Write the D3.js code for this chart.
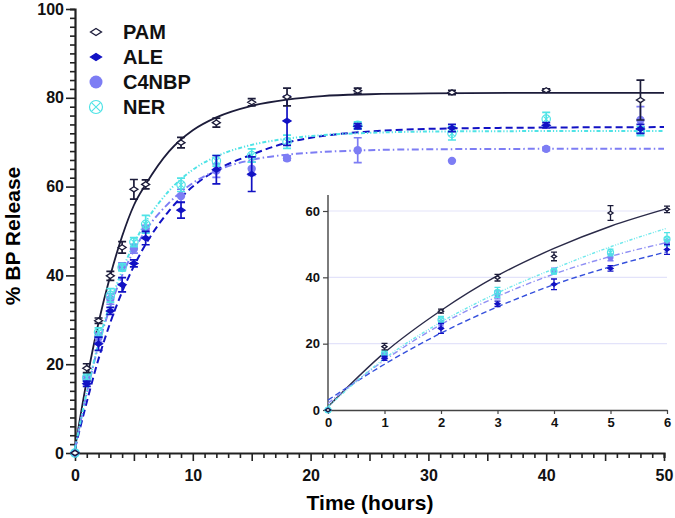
<!DOCTYPE html>
<html>
<head>
<meta charset="utf-8">
<script src="https://cdn.jsdelivr.net/npm/d3@7"></script>
<style>
  body { margin: 0; background: #fff; }
  svg { display: block; font-family: "Liberation Sans", Arial, sans-serif; }
</style>
</head>
<body>
<div id="chart"></div>
<script>
// measured times (hours)
const times = [0, 1, 2, 3, 4, 5, 6, 9, 12, 15, 18, 24, 32, 40, 48];

// mean % release and error
const pamVals = [0, 19.1, 29.8, 39.9, 46.3, 59.4, 60.5, 69.9, 74.4, 79.0, 80.2, 81.6, 81.2, 81.7, 79.5];
const pamErr = [0, 1.0, 0.6, 1.0, 1.3, 2.2, 1.0, 1.2, 1.0, 0.8, 2.0, 0.6, 0.5, 0.3, 4.5];
const aleVals = [0, 15.6, 24.6, 32.0, 37.9, 42.7, 48.4, 54.7, 63.8, 62.8, 74.8, 73.6, 73.2, 73.8, 73.0];
const aleErr = [0, 0.6, 1.5, 0.8, 1.6, 0.8, 1.5, 1.8, 3.2, 3.9, 5.5, 0.6, 0.8, 0.6, 1.0];
const c4Vals = [0, 16.5, 26.0, 34.7, 42.0, 46.0, 50.5, 57.9, 63.6, 64.0, 66.4, 68.2, 65.8, 68.5, 75.0];
const c4Err = [0, 0.8, 1.0, 1.2, 0.8, 1.0, 0.8, 1.5, 1.5, 1.5, 0.5, 2.8, 0, 0.4, 3.0];
const nerVals = [0, 17.0, 27.2, 35.5, 41.8, 47.5, 51.5, 60.4, 65.8, 67.0, 70.1, 73.8, 72.0, 75.2, 72.5];
const nerErr = [0, 0.8, 1.0, 1.5, 0.8, 1.0, 2.0, 1.5, 1.2, 1.5, 1.5, 0.8, 1.5, 1.5, 1.0];

// fitted curves
const fitTimes = [0, 1, 2, 3, 4, 5, 6, 8, 10, 12, 15, 18, 21, 25, 30, 40, 50];
const pamFit = [1, 16.4, 29.4, 40.0, 48.8, 55.8, 60.5, 68.0, 72.7, 75.6, 78.2, 79.6, 80.4, 80.8, 81.0, 81.1, 81.1];
const aleFit = [1, 11.5, 21.2, 29.4, 36.3, 42.1, 47.0, 54.6, 60.0, 63.7, 67.2, 69.9, 71.4, 72.4, 73.0, 73.3, 73.4];
const c4Fit = [1, 13.5, 24.3, 33.0, 40.0, 45.6, 50.1, 56.4, 60.8, 63.6, 66.0, 67.2, 67.8, 68.2, 68.4, 68.5, 68.5];
const nerFit = [1, 13.7, 24.8, 33.8, 41.1, 47.1, 52.0, 59.1, 63.8, 66.8, 69.4, 70.8, 71.6, 72.1, 72.4, 72.5, 72.5];

// fitted curves (first 6 h)
const insetTimes = [0, 1, 2, 3, 4, 5, 6];
const pamFitIn = [1, 17.3, 30.0, 40.5, 48.7, 55.4, 60.7];
const aleFitIn = [3, 13.8, 23.2, 31.1, 37.8, 43.2, 47.7];
const c4FitIn = [2, 15.0, 25.8, 34.2, 41.0, 46.3, 50.5];
const nerFitIn = [1, 15.5, 26.5, 35.3, 42.6, 49.2, 54.8];

const xTicks = [0, 10, 20, 30, 40, 50];
const yTicks = [0, 20, 40, 60, 80, 100];
const insetXTicks = [0, 1, 2, 3, 4, 5, 6];
const insetYTicks = [0, 20, 40, 60];

const series = [
  { name: "PAM", vals: pamVals, err: pamErr, fit: pamFit, fitIn: pamFitIn, color: "#1c1c3a", lineIn: "#2a2a48", dash: null, marker: "openDiamond" },
  { name: "ALE", vals: aleVals, err: aleErr, fit: aleFit, fitIn: aleFitIn, color: "#1212c4", lineIn: "#3550dc", dash: "7,4", marker: "diamond" },
  { name: "C4NBP", vals: c4Vals, err: c4Err, fit: c4Fit, fitIn: c4FitIn, color: "#7d7df4", lineIn: "#8f8ff4", dash: "7,3,1.5,3", marker: "circle" },
  { name: "NER", vals: nerVals, err: nerErr, fit: nerFit, fitIn: nerFitIn, color: "#4fe3e6", lineIn: "#6ee8ec", dash: "4,2,1.2,2,1.2,2", marker: "crossCircle" }
];

const W = 675, H = 518;
const svg = d3.select("#chart").append("svg").attr("width", W).attr("height", H);

const x = d3.scaleLinear().domain([0, 50]).range([75, 664]);
const y = d3.scaleLinear().domain([0, 100]).range([453, 9]);

// draw one marker at (cx, cy); dw/dh = diamond half sizes, r = circle radius
function drawMarker(g, type, cx, cy, sz, color) {
  if (type === "openDiamond" || type === "diamond") {
    const w = sz.dw, h = sz.dh;
    g.append("path")
      .attr("d", `M${cx - w},${cy}L${cx},${cy - h}L${cx + w},${cy}L${cx},${cy + h}Z`)
      .attr("fill", type === "diamond" ? color : "#fff")
      .attr("stroke", color)
      .attr("stroke-width", 1.3);
  } else if (type === "circle") {
    g.append("circle").attr("cx", cx).attr("cy", cy).attr("r", sz.r).attr("fill", color);
  } else {
    const r = sz.r, d = r * 0.65;
    g.append("circle").attr("cx", cx).attr("cy", cy).attr("r", r)
      .attr("fill", "none").attr("stroke", color).attr("stroke-width", 1.2);
    g.append("path")
      .attr("d", `M${cx - d},${cy - d}L${cx + d},${cy + d}M${cx - d},${cy + d}L${cx + d},${cy - d}`)
      .attr("stroke", color).attr("stroke-width", 1.1);
  }
}

function drawPoints(g, sx, sy, s, maxT, sz, cap, ew) {
  times.forEach((t, i) => {
    if (t > maxT) return;
    const v = s.vals[i], e = s.err[i];
    const px = sx(t);
    if (e > 0) {
      g.append("path")
        .attr("d", `M${px},${sy(v + e)}V${sy(v - e)}M${px - cap},${sy(v + e)}H${px + cap}M${px - cap},${sy(v - e)}H${px + cap}`)
        .attr("stroke", s.color)
        .attr("stroke-width", ew)
        .attr("fill", "none");
    }
    drawMarker(g, s.marker, px, sy(v), sz, s.color);
  });
}

// ---- main axes
const xAxis = d3.axisBottom(x)
  .tickValues(d3.range(0, 51, 1))
  .tickSizeOuter(0)
  .tickSize(5)
  .tickFormat((d) => (xTicks.includes(d) ? d : ""));
const gx = svg.append("g").attr("transform", "translate(0,453)").call(xAxis);
gx.select(".domain").attr("stroke", "#222").attr("stroke-width", 2.2);
gx.selectAll(".tick line")
  .attr("stroke", "#222").attr("stroke-width", 1.6)
  .attr("y2", (d) => (d % 5 === 0 ? 8 : 5));
gx.selectAll(".tick text")
  .attr("y", 17)
  .style("font-size", "16px").style("font-weight", "bold").attr("fill", "#111");

const yAxis = d3.axisLeft(y)
  .tickValues(d3.range(0, 101, 2))
  .tickSizeOuter(0)
  .tickSize(5)
  .tickFormat((d) => (yTicks.includes(d) ? d : ""));
const gy = svg.append("g").attr("transform", "translate(75,0)").call(yAxis);
gy.select(".domain").attr("stroke", "#222").attr("stroke-width", 2.2);
gy.selectAll(".tick line")
  .attr("stroke", "#222").attr("stroke-width", 1.6)
  .attr("x2", (d) => (d % 20 === 0 ? -9 : -5));
gy.selectAll(".tick text")
  .attr("x", -11)
  .style("font-size", "16px").style("font-weight", "bold").attr("fill", "#111");

// axis titles
svg.append("text")
  .attr("x", 370).attr("y", 510)
  .attr("text-anchor", "middle")
  .style("font-size", "21px").style("font-weight", "bold")
  .text("Time (hours)");
svg.append("text")
  .attr("transform", "translate(20,236) rotate(-90)")
  .attr("text-anchor", "middle")
  .style("font-size", "21px").style("font-weight", "bold")
  .text("% BP Release");

// ---- main curves
const mainLine = (arr) => d3.line()
  .x((d, i) => x(fitTimes[i]))
  .y((d) => y(d))
  .curve(d3.curveMonotoneX)(arr);

series.forEach((s) => {
  svg.append("path")
    .attr("d", mainLine(s.fit))
    .attr("fill", "none")
    .attr("stroke", s.color)
    .attr("stroke-width", s.name === "PAM" ? 1.8 : 2)
    .attr("stroke-dasharray", s.dash);
});

const mainPts = svg.append("g");
[series[2], series[3], series[1], series[0]].forEach((s) => {
  drawPoints(mainPts, x, y, s, 50, { dw: 4, dh: 2.6, r: 4.2 }, 4, 1.7);
});

// ---- legend
const legend = svg.append("g");
series.forEach((s, i) => {
  const ly = 32 + i * 25;
  drawMarker(legend, s.marker, 96, ly, { dw: 5.5, dh: 3.5, r: 6.5 }, s.color);
  legend.append("text")
    .attr("x", 123).attr("y", ly + 7)
    .style("font-size", "20px").style("font-weight", "bold")
    .attr("fill", "#111")
    .text(s.name);
});

// ---- inset
const ix = d3.scaleLinear().domain([0, 6]).range([328, 667]);
const iy = d3.scaleLinear().domain([0, 60]).range([410, 211]);
const inset = svg.append("g");

inset.append("rect")
  .attr("x", 300).attr("y", 188).attr("width", 375).attr("height", 250)
  .attr("fill", "#fff");

inset.selectAll("line.grid")
  .data(insetYTicks.filter((d) => d > 0))
  .join("line")
  .attr("class", "grid")
  .attr("x1", ix(0)).attr("x2", ix(6))
  .attr("y1", (d) => iy(d)).attr("y2", (d) => iy(d))
  .attr("stroke", "#e3e3fa").attr("stroke-width", 1.2);

const ixAxis = d3.axisBottom(ix).tickValues(insetXTicks).tickFormat(d3.format("d")).tickSize(4).tickSizeOuter(0);
const gix = inset.append("g").attr("transform", "translate(0,410)").call(ixAxis);
gix.select(".domain").attr("stroke", "#444").attr("stroke-width", 1.4);
gix.selectAll(".tick line").attr("stroke", "#444").attr("stroke-width", 1.2);
gix.selectAll(".tick text")
  .attr("y", 8)
  .style("font-size", "13px").style("font-weight", "bold").attr("fill", "#111");

const iyAxis = d3.axisLeft(iy).tickValues(insetYTicks).tickFormat(d3.format("d")).tickSize(5).tickSizeOuter(0);
const giy = inset.append("g").attr("transform", "translate(328,0)").call(iyAxis);
giy.select(".domain").attr("d", `M0,${iy(0)}V195`).attr("stroke", "#444").attr("stroke-width", 1.4);
giy.selectAll(".tick line").attr("stroke", "#444").attr("stroke-width", 1.2);
giy.selectAll(".tick text")
  .attr("x", -8)
  .style("font-size", "13px").style("font-weight", "bold").attr("fill", "#111");

const insetLine = (arr) => d3.line()
  .x((d, i) => ix(insetTimes[i]))
  .y((d) => iy(d))
  .curve(d3.curveMonotoneX)(arr);

series.forEach((s) => {
  inset.append("path")
    .attr("d", insetLine(s.fitIn))
    .attr("fill", "none")
    .attr("stroke", s.lineIn)
    .attr("stroke-width", 1.4)
    .attr("stroke-dasharray", s.dash ? s.dash.split(",").map((v) => v * 0.8).join(",") : null);
});

const insetPts = inset.append("g");
[series[2], series[3], series[1], series[0]].forEach((s) => {
  drawPoints(insetPts, ix, iy, s, 6, { dw: 2.6, dh: 1.8, r: 3 }, 3, 1.3);
});
</script>
</body>
</html>
